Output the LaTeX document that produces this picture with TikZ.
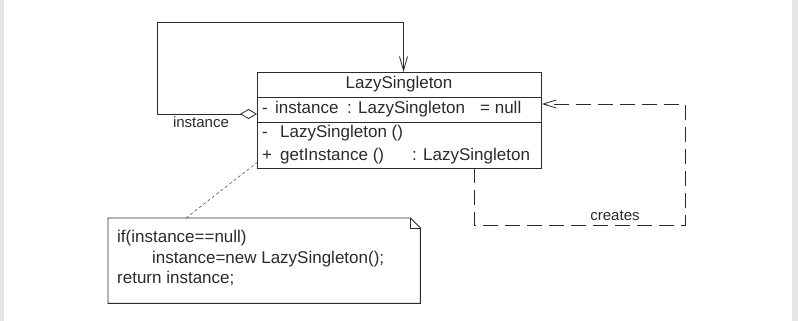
\documentclass[tikz,border=0pt]{standalone}
\usepackage{fontspec}
\setmainfont{Liberation Sans}
\usetikzlibrary{arrows.meta}
\definecolor{ink}{HTML}{2B2B2B}
\definecolor{edge}{HTML}{E6E6E6}
\tikzset{
  openhead/.tip={Straight Barb[length=14pt, width=8pt, line width=0.8pt]},
  sidehead/.tip={Straight Barb[length=13pt, width=8pt, line width=0.8pt]},
  diamondtail/.tip={Diamond[open, length=17pt, width=10pt, line width=0.8pt]}
}
\begin{document}
\begin{tikzpicture}[x=1pt,y=-1pt,
  every node/.style={text=ink, inner sep=0pt},
  member/.style={anchor=west, font=\fontsize{17}{20}\selectfont, text height=12.5pt, text depth=3.5pt},
  lbl/.style={font=\fontsize{15}{18}\selectfont, text height=11pt, text depth=3pt},
  umlline/.style={draw=ink, line width=0.9pt},
  depline/.style={draw=ink, line width=0.9pt, dash pattern=on 15pt off 7pt},
  noteline/.style={draw=ink!80, line width=0.6pt, dash pattern=on 3pt off 2.5pt}]
  \useasboundingbox (0,0) rectangle (798,321);
  \fill[white] (0,0) rectangle (798,321);
  \fill[edge] (0,0) rectangle (4,321);
  \fill[edge] (792,0) rectangle (798,321);

  % class box
  \node[umlline, draw, fill=white, minimum width=284pt, minimum height=96pt,
        anchor=north west] (cls) at (257,72) {};
  \draw[umlline] (cls.west |- 0,97) -- (cls.east |- 0,97);
  \draw[umlline] (cls.west |- 0,122) -- (cls.east |- 0,122);
  \node[member, anchor=center] (title) at (399,84) {LazySingleton};
  \node[member] (a1) at (262,109) {-};
  \node[member] (a2) at (275,109) {instance};
  \node[member] (a3) at (347,109) {: LazySingleton};
  \node[member] (a4) at (480,109) {= null};
  \node[member] (m1) at (262,133) {-};
  \node[member] (m2) at (280,133) {LazySingleton ()};
  \node[member] (m3) at (262,156) {+};
  \node[member] (m4) at (280,156) {getInstance ()};
  \node[member] (m5) at (412,156) {: LazySingleton};

  % self association with aggregation
  \coordinate (aggEnd) at (cls.west |- 0,114);
  \coordinate (loopA) at (157,114);
  \coordinate (loopB) at (157,22);
  \coordinate (loopC) at (403.5,22);
  \draw[umlline, diamondtail-openhead]
    (aggEnd) -- (loopA) -- (loopB) -- (loopC) -- (loopC |- cls.north);
  \node[lbl] (instLbl) at (201,124) {instance};

  % creates dependency
  \coordinate (depStart) at (474,168);
  \coordinate (depA) at (474,225);
  \coordinate (depB) at (685.5,225);
  \coordinate (depC) at (685.5,104);
  \draw[depline, -sidehead]
    (depStart) -- (depA) -- (depB) -- (depC) -- (depC -| cls.east);
  \node[lbl] (creates) at (615,216) {creates};

  % note attached to getInstance
  \node[minimum width=312pt, minimum height=85pt, anchor=north west] (note) at (108,218) {};
  \draw[umlline, fill=white] (note.north west) -- ([xshift=-10pt]note.north east)
    -- ([yshift=-10pt]note.north east) -- (note.south east) -- (note.south west) -- cycle;
  \draw[umlline, line width=0.6pt] ([xshift=-10pt]note.north east) -- ([xshift=-10pt,yshift=-10pt]note.north east)
    -- ([yshift=-10pt]note.north east);
  \node[member] (n1) at (117,238) {if(instance==null)};
  \node[member] (n2) at (152,259) {instance=new LazySingleton();};
  \node[member] (n3) at (117,279) {return instance;};
  \coordinate (noteTop) at (186,218);
  \coordinate (opEnd) at (259,161);
  \draw[noteline] (noteTop) -- (opEnd);
\end{tikzpicture}
\end{document}
